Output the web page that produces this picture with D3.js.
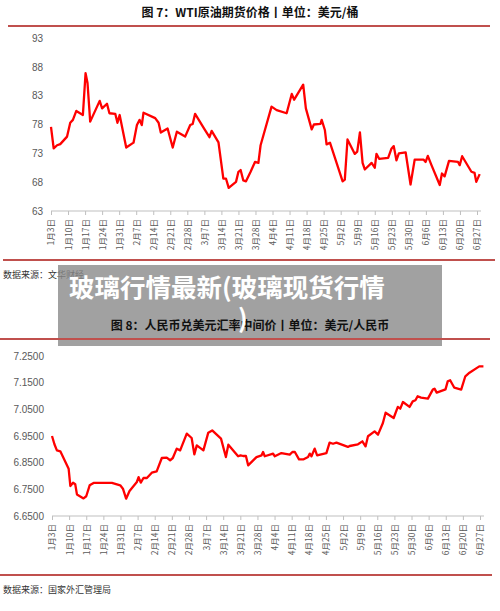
<!DOCTYPE html>
<html><head><meta charset="utf-8">
<script src="https://cdn.jsdelivr.net/npm/d3@7"></script>
<style>
body{margin:0;background:#fff;}
svg text{font-family:"Noto Sans CJK SC","Noto Sans",sans-serif;}
.tick text{fill:#595959;}
</style></head><body>
<div id="view"></div>
<script>
// ---- data ----
const START = new Date(2023, 0, 3);
const tickDays = d3.range(0, 176, 7); // 1月3日 ... 6月27日 weekly

// WTI: days since 1/3, price
const wtiDay = [0,1.1,2.5,3.8,6.6,7.9,9,10.4,13.1,14.2,15,16.1,20,21,23,24,26.4,27.3,28.2,30.9,33.9,35.3,36.4,37.3,38,42.8,44.2,45.1,47.9,50,51.7,55.1,57.2,58.2,59.2,62.9,65.1,66,68.8,70.8,71.9,73,76,77,77.9,79,80.1,82,83.8,85.2,86.1,90.6,92.7,96.8,98.9,99.9,103.6,104.7,107.1,108,110.7,111.2,112.5,113.2,114.6,119.8,120.7,121.8,124.8,125.8,126.9,128,128.9,131.7,133,133.7,134.8,138.5,139.9,140.8,141.9,142.9,145.7,147.7,149.4,153.1,153.9,154.8,156.3,159.7,160.6,161.7,163.5,167.2,167.9,168.9,172.7,174,174.7,176.1];
const wtiVal = [77.6,73.85,74.4,74.6,75.9,78.3,78.8,80.35,79.65,86.9,85.2,78.5,82.1,80.8,81.6,79.95,79.85,78.3,79.65,74.0,74.85,77.9,78.8,77.9,80.05,79.1,78.3,76.6,77.3,74.0,76.75,75.9,77.9,78.1,79.85,77.3,75.8,76.9,74.9,68.6,68.6,67.0,68.05,69.8,70.1,68.3,68.15,69.8,71.5,71.35,74.4,81.1,80.5,79.95,83.3,82.3,84.9,80.8,77.15,78.0,78.1,78.8,77.05,74.55,74.85,68.15,68.45,75.4,72.9,73.3,76.65,71.35,70.2,71.35,70.5,72.9,72.05,72.2,73.85,74.25,71.8,73.0,73.15,67.6,71.9,71.9,71.5,72.55,70.95,67.5,69.5,69.0,71.7,71.5,70.95,72.5,69.8,69.6,68.05,69.4];
const wtiTicks = [63,68,73,78,83,88,93];

// USD/CNY central parity
const fxDay = [0,1,2,3.4,6.8,7.5,8.6,9.5,10.2,12.9,14,15.4,17,24.5,27.9,29,30.3,31.7,34.7,35.4,36.3,37.4,38.8,40.8,42.8,44.9,46.9,48.3,49.4,51,52.4,55.1,57.1,58.2,59.2,61.9,63.9,65.5,69.1,71.1,72.1,76.1,77.1,78.2,79.3,80.2,83.6,85.7,86.3,87,90.4,91.1,93.8,97.2,98.3,99.3,101,102.9,104.7,105.4,106.1,107.4,108.4,112.2,113.5,114.9,116.3,121,121.7,125.1,126.9,128.2,129.2,131.9,133.3,135.3,136.4,139.7,141.4,142.4,143.5,146.2,147.5,148.6,149.5,150.9,153.7,155.7,156.4,157.3,160.9,161.8,162.8,164.5,167.3,169,170.7,174.7,176.4];
const fxVal = [6.95,6.919,6.896,6.8925,6.8275,6.7625,6.775,6.769,6.731,6.716,6.724,6.765,6.774,6.774,6.765,6.7525,6.715,6.744,6.7775,6.796,6.775,6.7925,6.7925,6.8125,6.8175,6.8675,6.869,6.859,6.8675,6.9025,6.896,6.959,6.9425,6.881,6.915,6.896,6.9625,6.971,6.94,6.871,6.9175,6.874,6.8775,6.875,6.875,6.84,6.871,6.8775,6.89,6.874,6.884,6.874,6.886,6.88,6.89,6.89,6.8625,6.8625,6.871,6.884,6.874,6.9025,6.8775,6.886,6.925,6.921,6.925,6.909,6.9125,6.919,6.93,6.911,6.949,6.9675,6.955,6.999,7.0375,7.0175,7.059,7.0525,7.0775,7.059,7.08,7.084,7.099,7.094,7.09,7.124,7.1275,7.1125,7.125,7.155,7.159,7.131,7.124,7.174,7.1875,7.211,7.211];
const fxTicks = [6.65,6.75,6.85,6.95,7.05,7.15,7.25];

const RED = "#ff0000", RULE = "#c0504d";
const dt = d => d3.timeDay.offset(START, Math.floor(d));
const dayX = (x, d) => x(START) + (x(dt(175)) - x(START)) * d / 175;

const svg = d3.select("#view").append("svg").attr("width",500).attr("height",611);

function drawChart(o){
  svg.append("text").attr("x",o.titleX).attr("y",o.titleY).attr("text-anchor","middle")
    .style("font-size","12px").style("font-weight","bold").attr("fill","#111").text(o.title);
  svg.append("line").attr("x1",o.rule1[0]).attr("x2",o.rule1[1]).attr("y1",o.ruleY).attr("y2",o.ruleY)
    .attr("stroke",RULE).attr("stroke-width",2);

  const x = d3.scaleTime().domain([START, dt(175)]).range([o.left, o.right]);
  const y = d3.scaleLinear().domain(d3.extent(o.ticks)).range([o.bottom, o.top]);

  const ya = svg.append("g").attr("transform",`translate(${o.left},0)`)
    .call(d3.axisLeft(y).tickValues(o.ticks).tickSize(0).tickPadding(o.yPad).tickFormat(o.fmt));
  ya.select(".domain").remove();
  ya.selectAll("text").style("font-size","10px").style("font-family","Liberation Sans, sans-serif");

  const xa = svg.append("g").attr("transform",`translate(0,${o.bottom})`)
    .call(d3.axisBottom(x).tickValues(tickDays.map(dt)).tickSize(4).tickSizeOuter(0)
      .tickFormat(d => (d.getMonth()+1)+"月"+d.getDate()+"日"));
  xa.select(".domain").attr("stroke","#bfbfbf").attr("d",`M${o.left},0H${o.right+4}`);
  xa.selectAll("line").attr("stroke","#bfbfbf");
  xa.selectAll("text").attr("transform","rotate(-90)").attr("text-anchor","end")
    .attr("x",-8).attr("y",0).attr("dy","0.35em").style("font-size","8.5px");

  const line = d3.line().x(d => dayX(x, d[0])).y(d => y(d[1])).curve(d3.curveLinear);
  svg.append("path").datum(d3.zip(o.days, o.vals)).attr("d", line)
    .attr("fill","none").attr("stroke",RED).attr("stroke-width",2.3).attr("stroke-linejoin","round");

  svg.append("line").attr("x1",o.rule2[0]).attr("x2",o.rule2[1]).attr("y1",o.rule2Y).attr("y2",o.rule2Y)
    .attr("stroke",RULE).attr("stroke-width",2);
  svg.append("text").attr("x",3).attr("y",o.rule2Y+18).style("font-size","9px").attr("fill","#333")
    .style("font-family","Noto Sans CJK SC").text(o.source);
}

drawChart({title:"图 7：WTI原油期货价格丨单位：美元/桶", titleX:250, titleY:17, ruleY:26, rule1:[8,490],
  left:51, right:477, top:38, bottom:211, ticks:wtiTicks, fmt:d3.format("d"), yPad:8,
  days:wtiDay, vals:wtiVal, rule2:[3,495], rule2Y:260, source:"数据来源：文华财经"});

// overlay banner (behind chart 8 title, which shows through it)
svg.append("rect").attr("x",58).attr("y",265).attr("width",384).attr("height",81)
  .attr("fill","#8a8a8a").attr("opacity",0.8);

drawChart({title:"图 8：人民币兑美元汇率中间价丨单位：美元/人民币", titleX:250, titleY:330, ruleY:339, rule1:[0,490],
  left:52, right:480, top:356, bottom:516, ticks:fxTicks, fmt:d3.format(".4f"), yPad:8,
  days:fxDay, vals:fxVal, rule2:[0,492], rule2Y:575, source:"数据来源：国家外汇管理局"});

svg.append("text").attr("x",69).attr("y",297).attr("fill","#fff").style("font-size","25.5px").style("font-weight","bold")
  .text("玻璃行情最新(玻璃现货行情");
svg.append("text").attr("x",238).attr("y",328).attr("fill","#fff").style("font-size","25.5px").style("font-weight","bold")
  .text(")");
</script></body></html>
